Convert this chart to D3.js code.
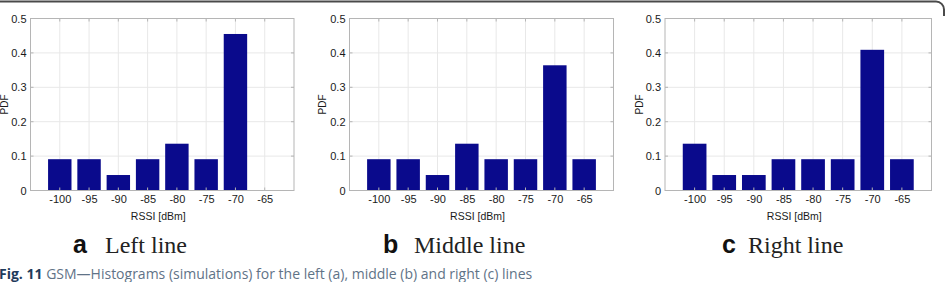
<!DOCTYPE html>
<html>
<head>
<meta charset="utf-8">
<script src="https://cdn.jsdelivr.net/npm/d3@7/dist/d3.min.js"></script>
<style>
html,body{margin:0;padding:0;background:#fff;}
svg{display:block;}
</style>
</head>
<body>
<svg id="chart" width="945" height="282"></svg>
<script>
// ---- data ----
const categories = [-100, -95, -90, -85, -80, -75, -70, -65];
const leftLine   = [0.091, 0.091, 0.045, 0.091, 0.136, 0.091, 0.455, 0];
const middleLine = [0.091, 0.091, 0.045, 0.136, 0.091, 0.091, 0.364, 0.091];
const rightLine  = [0.136, 0.045, 0.045, 0.091, 0.091, 0.091, 0.409, 0.091];
const yTicks = [0, 0.1, 0.2, 0.3, 0.4, 0.5];
const xTickLabels = ["-100", "-95", "-90", "-85", "-80", "-75", "-70", "-65"];
const panelLetters = ["a", "b", "c"];
const panelTitles = ["Left line", "Middle line", "Right line"];
const xLabel = "RSSI [dBm]";
const yLabel = "PDF";
const captionBold = "Fig. 11";
const captionText = " GSM\u2014Histograms (simulations) for the left (a), middle (b) and right (c) lines";

// ---- layout ----
const panels = [
  {values: leftLine,   left: 30.5,  right: 294,   yLab: 4,   letterX: 73,  titleX: 105},
  {values: middleLine, left: 349.5, right: 613.5, yLab: 322, letterX: 383, titleX: 414},
  {values: rightLine,  left: 665,   right: 931.5, yLab: 639, letterX: 722, titleX: 748}
];
const plotTop = 18.5, plotBottom = 190.5;
const barColor = "#0a0a8c";
const sans = "'Liberation Sans', Arial, sans-serif";
const serif = "'Liberation Serif', 'Times New Roman', Times, serif";

const svg = d3.select("#chart");

// frame at top
svg.append("path")
  .attr("d", "M-2,1.5 H936 A8,8 0 0 1 944,9.5 V16")
  .attr("fill", "none").attr("stroke", "#4a4a4a").attr("stroke-width", 2);

panels.forEach((p, i) => {
  const g = svg.append("g");
  const x = d3.scaleLinear().domain([-105, -60]).range([p.left, p.right]);
  const y = d3.scaleLinear().domain([0, 0.5]).range([plotBottom, plotTop]);

  // grid
  g.append("g").selectAll("line").data(categories).join("line")
    .attr("x1", d => x(d)).attr("x2", d => x(d))
    .attr("y1", plotTop).attr("y2", plotBottom)
    .attr("stroke", "#e8e8e8").attr("stroke-width", 1);
  g.append("g").selectAll("line").data(yTicks.slice(1, -1)).join("line")
    .attr("x1", p.left).attr("x2", p.right)
    .attr("y1", d => y(d)).attr("y2", d => y(d))
    .attr("stroke", "#e8e8e8").attr("stroke-width", 1);

  // bars
  const bw = x(categories[0] + 2) - x(categories[0] - 2);
  g.append("g").selectAll("rect").data(categories.map((c, k) => ({c, v: p.values[k]}))).join("rect")
    .attr("x", d => x(d.c) - bw / 2)
    .attr("width", bw)
    .attr("y", d => y(d.v))
    .attr("height", d => y(0) - y(d.v))
    .attr("fill", barColor);

  // axes
  const xAxis = d3.axisBottom(x).tickValues(categories)
    .tickFormat((d, k) => xTickLabels[k]).tickSize(0).tickPadding(5);
  const xa = g.append("g").attr("transform", `translate(0,${plotBottom})`).call(xAxis);
  xa.select(".domain").remove();
  xa.selectAll("text").attr("font-family", sans)
    .attr("font-size", "11px").attr("fill", "#1a1a1a");

  const yAxis = d3.axisLeft(y).tickValues(yTicks).tickFormat(d3.format("~g")).tickSize(0).tickPadding(4);
  const ya = g.append("g").attr("transform", `translate(${p.left},0)`).call(yAxis);
  ya.select(".domain").remove();
  ya.selectAll("text").attr("font-family", sans)
    .attr("font-size", "11px").attr("fill", "#1a1a1a");

  // inward tick marks
  const tk = g.append("g").attr("stroke", "#b5b5b5").attr("stroke-width", 1);
  categories.forEach(c => {
    tk.append("line").attr("x1", x(c)).attr("x2", x(c)).attr("y1", plotBottom).attr("y2", plotBottom - 3);
    tk.append("line").attr("x1", x(c)).attr("x2", x(c)).attr("y1", plotTop).attr("y2", plotTop + 3);
  });
  yTicks.forEach(v => {
    tk.append("line").attr("x1", p.left).attr("x2", p.left + 3).attr("y1", y(v)).attr("y2", y(v));
    tk.append("line").attr("x1", p.right).attr("x2", p.right - 3).attr("y1", y(v)).attr("y2", y(v));
  });

  // box
  g.append("rect").attr("x", p.left).attr("y", plotTop)
    .attr("width", p.right - p.left).attr("height", plotBottom - plotTop)
    .attr("fill", "none").attr("stroke", "#b5b5b5").attr("stroke-width", 1);

  // labels
  g.append("text").attr("x", (p.left + p.right) / 2 - 4).attr("y", 219.5)
    .attr("text-anchor", "middle")
    .attr("font-family", sans).attr("font-size", "10.5px")
    .attr("fill", "#1a1a1a").text(xLabel);
  g.append("text")
    .attr("transform", `translate(${p.yLab + 3.5},${(plotTop + plotBottom) / 2}) rotate(-90)`)
    .attr("text-anchor", "middle")
    .attr("font-family", sans).attr("font-size", "10px")
    .attr("fill", "#1a1a1a").text(yLabel);

  // panel title
  g.append("text").attr("x", p.letterX).attr("y", 253)
    .attr("font-family", sans).attr("font-weight", "bold")
    .attr("font-size", "25px").attr("fill", "#111").text(panelLetters[i]);
  g.append("text").attr("x", p.titleX).attr("y", 253)
    .attr("font-family", serif)
    .attr("font-size", "24px").attr("fill", "#222").text(panelTitles[i]);
});

// caption
const cap = svg.append("text").attr("x", -1).attr("y", 278.5)
  .attr("font-family", "'Open Sans', sans-serif").attr("font-size", "14px");
cap.append("tspan").attr("font-weight", "bold").attr("fill", "#1f3b5c").text(captionBold);
cap.append("tspan").attr("fill", "#5f7387").text(captionText);
</script>
</body>
</html>
